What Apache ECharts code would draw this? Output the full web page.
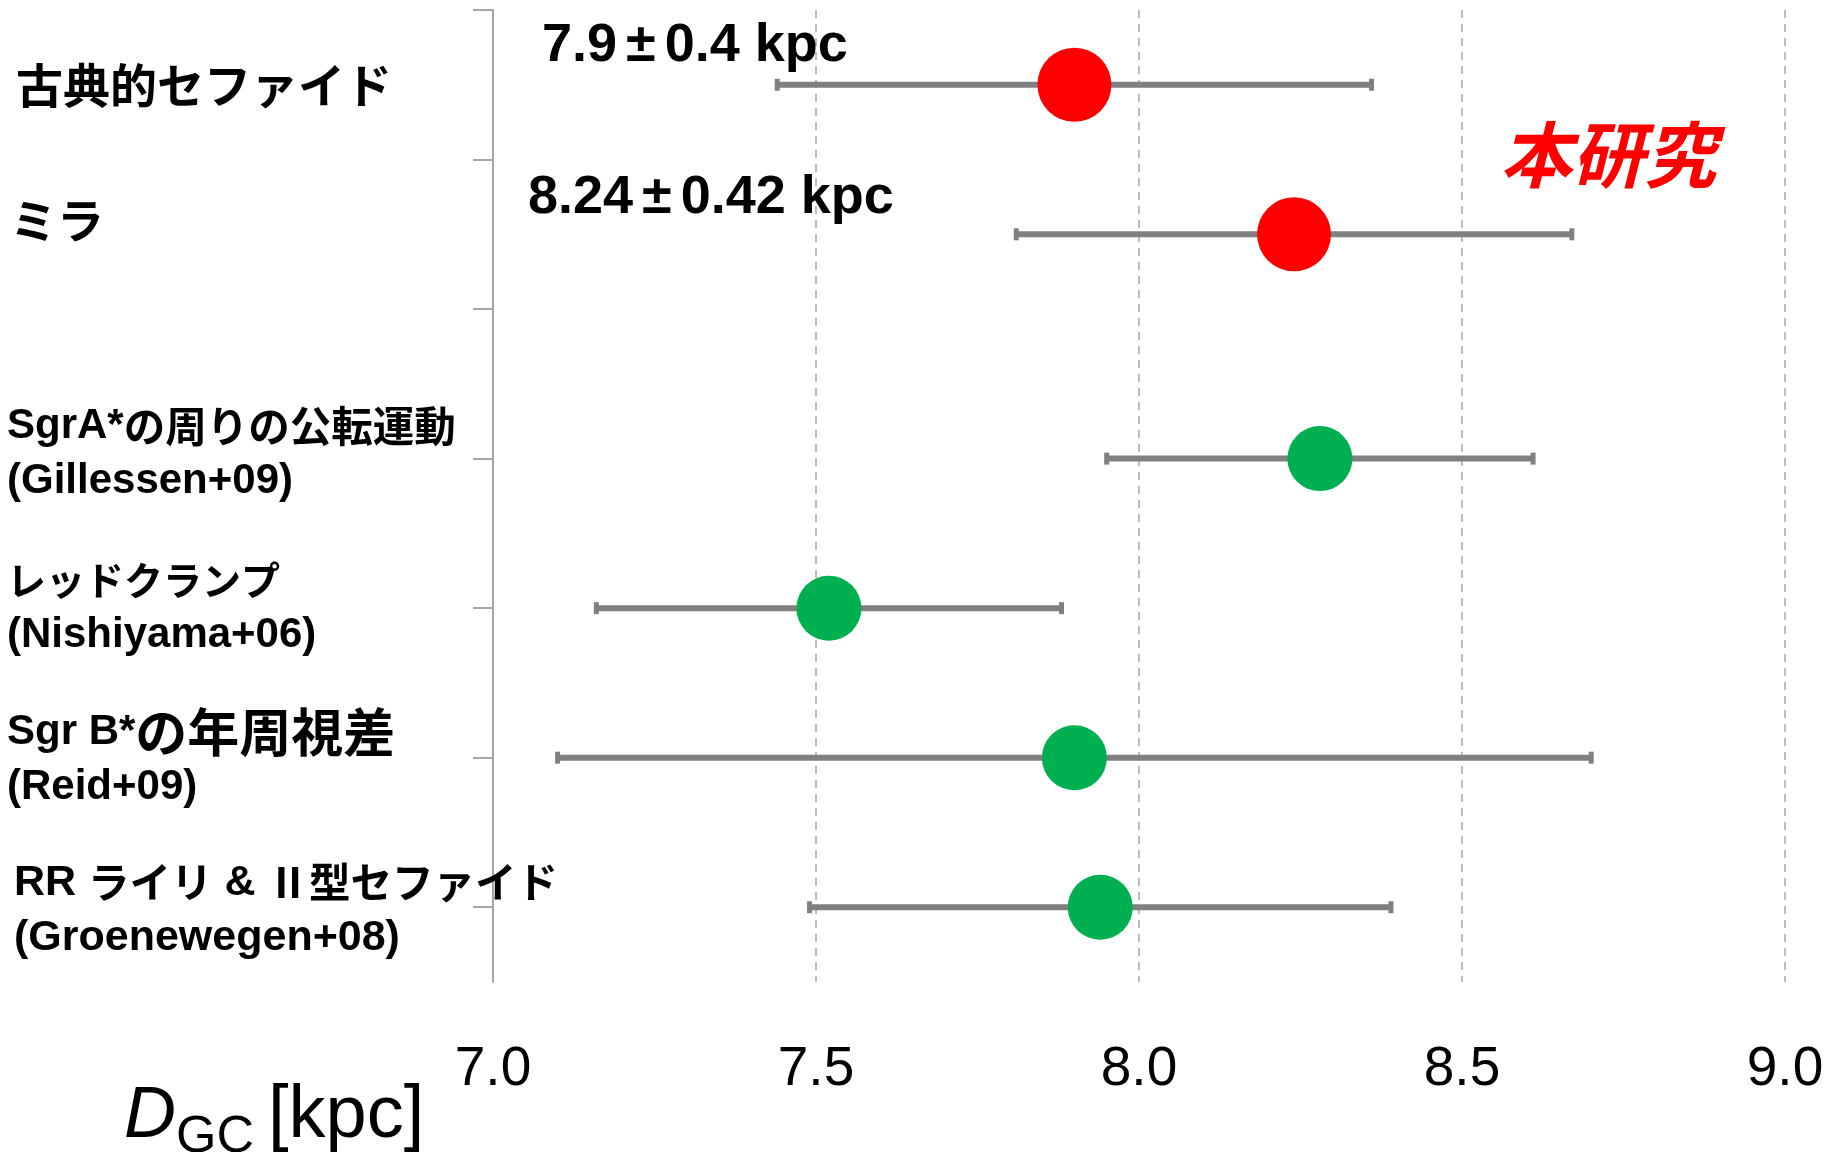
<!DOCTYPE html>
<html><head><meta charset="utf-8">
<script src="https://cdn.jsdelivr.net/npm/echarts@6/dist/echarts.min.js"></script>
<style>html,body{margin:0;padding:0;background:#fff}#c{width:1837px;height:1152px}</style>
</head><body><div id="c"></div>
<script>
// ---- data ----
const rowLabels = [
  '古典的セファイド',
  'ミラ',
  'SgrA*の周りの公転運動\n(Gillessen+09)',
  'レッドクランプ\n(Nishiyama+06)',
  'Sgr B*の年周視差\n(Reid+09)',
  'RR ライリ & Ⅱ型セファイド\n(Groenewegen+08)'
];
const rowPos   = [0.5, 1.5, 3, 4, 5, 6];
const dGC      = [7.90, 8.24, 8.28, 7.52, 7.90, 7.94];
const errLow   = [7.44, 7.81, 7.95, 7.16, 7.10, 7.49];
const errHigh  = [8.36, 8.67, 8.61, 7.88, 8.70, 8.39];
const isThisWork = [true, true, false, false, false, false];
const xTicks   = [7.0, 7.5, 8.0, 8.5, 9.0];
const yTicks   = [0, 1, 2, 3, 4, 5, 6];
const annotations = ['7.9±0.4 kpc', '8.24±0.42 kpc'];
const thisWorkLabel = '本研究';

// ---- styles (not data) ----
const labelStyle = [
  {x: 16, lat: 47, cjk: 47, dy: 0},
  {x: 10, lat: 47, cjk: 47, dy: -14},
  {x: 7,  lat: 42, cjk: 41.5, dy: -5},
  {x: 7,  lat: 42, cjk: 39, dy: 0},
  {x: 7,  lat: 42, cjk: 52, dy: 2},
  {x: 14, lat: 43, cjk: 41.5, dy: 3}
];
const annoPos = [{x: 542, y: 46}, {x: 528, y: 198}];
const GRAY = '#808080', GRID = '#A6A6A6';

const chart = echarts.init(document.getElementById('c'), null, {renderer: 'canvas'});

const redData = [], greenData = [];
dGC.forEach((v, i) => (isThisWork[i] ? redData : greenData).push([v, rowPos[i]]));
const errData = errLow.map((l, i) => [l, errHigh[i], rowPos[i]]);

chart.setOption({
  animation: false,
  backgroundColor: '#fff',
  grid: {left: 493, right: 52, top: 10, bottom: 170},
  xAxis: {
    type: 'value', min: xTicks[0], max: xTicks[xTicks.length - 1], interval: xTicks[1] - xTicks[0],
    axisLine: {show: false}, axisTick: {show: false},
    splitLine: {show: true, lineStyle: {color: GRID, width: 1.5, type: [8, 6]}},
    axisLabel: {fontSize: 55, color: '#000', fontFamily: 'Liberation Sans', margin: 60,
      formatter: v => v.toFixed(1)}
  },
  yAxis: {
    type: 'value', inverse: true, min: 0, max: 6.5, interval: 1,
    axisLine: {show: true, lineStyle: {color: GRID, width: 2}},
    axisTick: {show: true, inside: false, length: 20, customValues: yTicks, lineStyle: {color: GRID, width: 2}},
    axisLabel: {show: false},
    splitLine: {show: false}
  },
  series: [
    {
      type: 'custom', z: 2,
      data: errData,
      encode: {x: [0, 1], y: 2},
      renderItem: function (params, api) {
        const y = api.value(2);
        const lo = api.coord([api.value(0), y]);
        const hi = api.coord([api.value(1), y]);
        const st = {stroke: GRAY, lineWidth: 6};
        const cap = {stroke: GRAY, lineWidth: 5};
        return {type: 'group', children: [
          {type: 'line', shape: {x1: lo[0], y1: lo[1], x2: hi[0], y2: hi[1]}, style: st},
          {type: 'line', shape: {x1: lo[0], y1: lo[1] - 6, x2: lo[0], y2: lo[1] + 6}, style: cap},
          {type: 'line', shape: {x1: hi[0], y1: hi[1] - 6, x2: hi[0], y2: hi[1] + 6}, style: cap}
        ]};
      }
    },
    {type: 'scatter', z: 3, data: redData, symbol: 'circle', symbolSize: 74, itemStyle: {color: '#FF0000', opacity: 1}},
    {type: 'scatter', z: 3, data: greenData, symbol: 'circle', symbolSize: 65, itemStyle: {color: '#00B050', opacity: 1}}
  ]
});

function toRich(text) {
  return text.split('\n').map(line => {
    const runs = line.match(/[\x00-\x7F]+|[^\x00-\x7F]+/g) || [];
    return runs.map(r => '{' + (/^[\x00-\x7F]/.test(r) ? 'a' : 'j') + '|' + r + '}').join('');
  }).join('\n');
}

const graphics = [];
rowLabels.forEach((t, i) => {
  const s = labelStyle[i];
  const y = chart.convertToPixel({yAxisIndex: 0}, rowPos[i]) + s.dy;
  const LH = 55;
  graphics.push({
    type: 'text', x: s.x, y: y, z: 10,
    style: {
      text: toRich(t), align: 'left', verticalAlign: 'middle',
      rich: {
        a: {fontFamily: 'Liberation Sans', fontWeight: 'bold', fontSize: s.lat, lineHeight: LH, fill: '#000'},
        j: {fontFamily: 'Noto Sans CJK JP', fontWeight: 'bold', fontSize: s.cjk, lineHeight: LH, fill: '#000'}
      }
    }
  });
});

annotations.forEach((t, i) => {
  const parts = t.split('±');
  graphics.push({
    type: 'text', x: annoPos[i].x, y: annoPos[i].y, z: 10,
    style: {
      text: '{n|' + parts[0] + '}{pm|±}{n|' + parts[1] + '}',
      align: 'left', verticalAlign: 'middle',
      rich: {
        n: {fontFamily: 'Liberation Sans', fontWeight: 'bold', fontSize: 54, fill: '#000'},
        pm: {fontFamily: 'Liberation Sans', fontWeight: 'bold', fontSize: 54, fill: '#000', padding: [0, 9]}
      }
    }
  });
});

graphics.push({
  type: 'text', x: 1608, y: 155, z: 10,
  style: {text: thisWorkLabel, align: 'center', verticalAlign: 'middle',
    fontFamily: 'Noto Sans CJK JP', fontWeight: 'bold', fontStyle: 'italic', fontSize: 72, fill: '#FF0000'}
});

// axis name D_GC [kpc]
graphics.push({type: 'text', x: 124, y: 1117, z: 10,
  style: {text: 'D', align: 'left', verticalAlign: 'middle', fontFamily: 'Liberation Sans', fontStyle: 'italic', fontSize: 72, fill: '#000'}});
graphics.push({type: 'text', x: 176, y: 1138, z: 10,
  style: {text: 'GC', align: 'left', verticalAlign: 'middle', fontFamily: 'Liberation Sans', fontSize: 52, fill: '#000'}});
graphics.push({type: 'text', x: 268, y: 1117, z: 10,
  style: {text: '[kpc]', align: 'left', verticalAlign: 'middle', fontFamily: 'Liberation Sans', fontSize: 74, fill: '#000'}});

chart.setOption({graphic: graphics});
</script>
</body></html>
